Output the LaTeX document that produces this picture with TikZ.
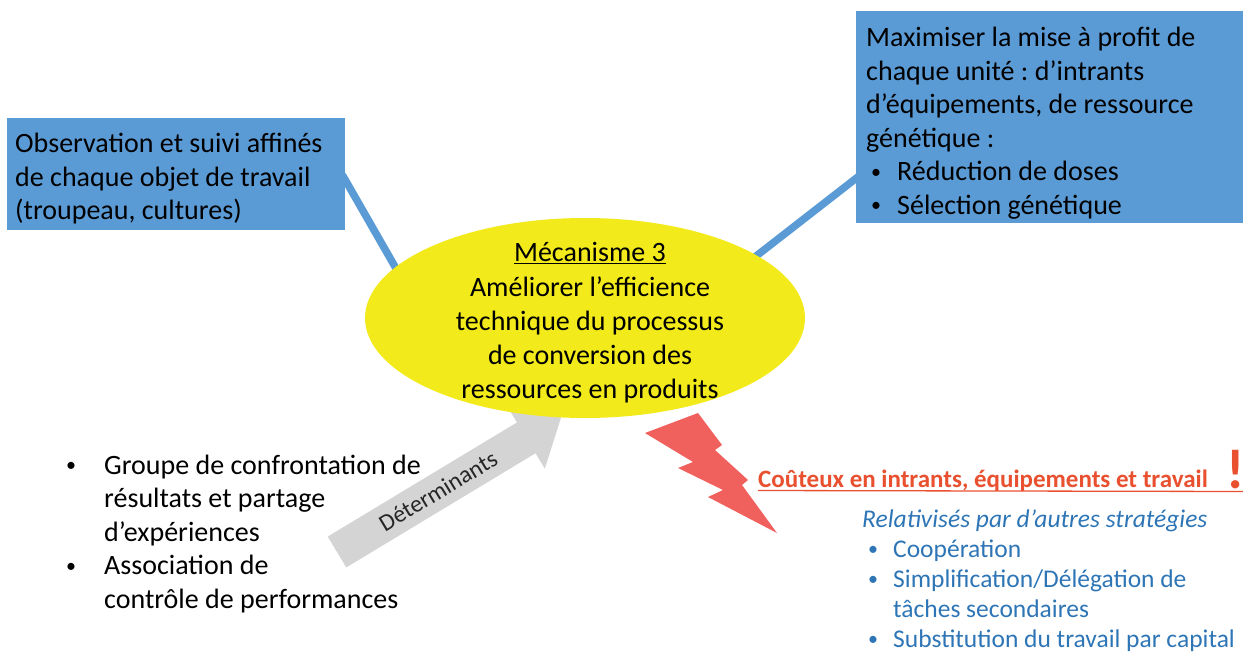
\documentclass[tikz,border=0pt]{standalone}
\usepackage{fontspec}
\setmainfont{Carlito}
\usetikzlibrary{shapes.geometric}
\frenchspacing
\definecolor{boxblue}{HTML}{5B9BD5}
\definecolor{ellyellow}{HTML}{F2EA1A}
\definecolor{arrgray}{HTML}{D4D4D4}
\definecolor{boltred}{HTML}{F0605D}
\definecolor{costred}{HTML}{E9502F}
\definecolor{txtblue}{HTML}{2E75B6}
\newcommand\smallbul{\raisebox{2.5pt}{\fontsize{20}{20}\selectfont •}}
\newcommand\bulr{\hspace*{5pt}\makebox[26pt][l]{\smallbul}}
\begin{document}
\begin{tikzpicture}[x=1pt,y=-1pt,
  bigfont/.style={font=\fontsize{28}{33.5}\selectfont},
  midfont/.style={font=\fontsize{25.5}{30}\selectfont},
  bluebox/.style={fill=boxblue, draw=none, inner sep=0pt, anchor=north west},
  boxtext/.style={bigfont, align=left, anchor=west, inner sep=0pt, text=black},
  conn/.style={draw=boxblue, line width=7.5pt},
  plain/.style={inner sep=0pt}]
\useasboundingbox (0,0) rectangle (1243,653);

% ellipse (shape only, for anchors)
\path (585,318) node[ellipse, minimum width=440pt, minimum height=200pt, inner sep=0pt] (ell) {};

% boxes (shapes)
\path (7,118) node[bluebox, minimum width=338pt, minimum height=112pt] (lbox) {};
\path (856,11) node[bluebox, minimum width=387pt, minimum height=212pt] (rbox) {};

% connectors
\draw[conn, shorten <=-6pt, shorten >=-6pt] ([yshift=-6pt]lbox.east) -- (ell.165);
\draw[conn, shorten <=-6pt, shorten >=-6pt] ([yshift=45pt]rbox.south west) -- (ell.20);
\fill[boxblue] (lbox.north west) rectangle (lbox.south east);
\fill[boxblue] (rbox.north west) rectangle (rbox.south east);

% box texts
\node[boxtext] (ltext) at (15,179)
  {Observation et suivi affinés\\de chaque objet de travail\\(troupeau, cultures)};
\node[boxtext] (rtext) at (866,123)
  {Maximiser la mise à profit de\\chaque unité : d’intrants\\d’équipements, de ressource\\génétique :\\\bulr Réduction de doses\\\bulr Sélection génétique};

% grey arrow
\begin{scope}[shift={(337,552)}, rotate=31.1]
  \fill[arrgray] (0,-18) -- (221,-18) -- (221,-36) -- (262,0) -- (221,36) -- (221,18) -- (0,18) -- cycle;
  \node[transform shape, font=\fontsize{24}{28}\selectfont, text=black!85] (detlab) at (118,0) {Déterminants};
\end{scope}

% lightning bolt
\fill[boltred] (645,433) -- (698,413) -- (722,445) -- (715,450) -- (748,480) -- (742,485)
  -- (777,533) -- (708,497) -- (723,490) -- (678,468) -- (693,462) -- cycle;

% ellipse fill
\fill[ellyellow] (ell.center) ellipse[x radius=220, y radius=100];
\node[font=\fontsize{28}{34.2}\selectfont, align=center] (elltxt) at (590,323)
  {\underline{Mécanisme 3}\\Améliorer l’efficience\\technique du processus\\de conversion des\\ressources en produits};

% left list
\node[bigfont, align=left, anchor=west, plain] (leftlist) at (64,534)
  {\makebox[40pt][l]{\hspace*{2pt}\smallbul}Groupe de confrontation de\\\hspace*{40pt}résultats et partage\\\hspace*{40pt}d’expériences\\
   \makebox[40pt][l]{\hspace*{2pt}\smallbul}Association de\\\hspace*{40pt}contrôle de performances};

% cost
\node[font=\bfseries\fontsize{25}{30}\selectfont, text=costred, anchor=base west, plain] (cout) at (758,487)
  {Coûteux en intrants, équipements et travail};
\node[font=\bfseries\fontsize{56}{56}\selectfont, text=costred, anchor=base west, plain] (excl) at (1226,488) {!};
\draw[costred, line width=1.3pt] ([yshift=-3.5pt]cout.base west) -- ([yshift=-3.5pt]excl.base east);

% strategies
\node[midfont, text=txtblue, align=left, anchor=west, plain] (strat) at (862,581)
  {\textit{Relativisés par d’autres stratégies}\\
   \hspace*{6pt}\makebox[25pt][l]{\smallbul}Coopération\\
   \hspace*{6pt}\makebox[25pt][l]{\smallbul}Simplification/Délégation de\\
   \hspace*{31pt}tâches secondaires\\
   \hspace*{6pt}\makebox[25pt][l]{\smallbul}Substitution du travail par capital};
\end{tikzpicture}
\end{document}
